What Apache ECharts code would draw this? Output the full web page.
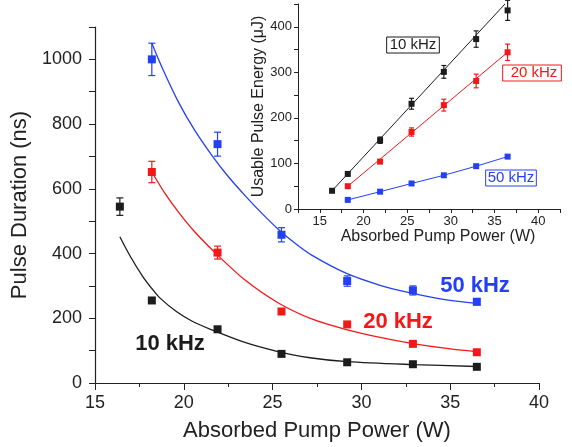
<!DOCTYPE html>
<html>
<head>
<meta charset="utf-8">
<script src="https://cdn.jsdelivr.net/npm/echarts@6/dist/echarts.min.js"></script>
<style>
  html, body { margin: 0; padding: 0; background: #fff; }
  #chart { width: 572px; height: 447px; }
</style>
</head>
<body>
<div id="chart"></div>
<script>
// absorbed pump power (W)
const power10 = [16.4, 18.2, 21.9, 25.5, 29.2, 32.9, 36.5];
const power20 = [18.2, 21.9, 25.5, 29.2, 32.9, 36.5];
const power50 = [18.2, 21.9, 25.5, 29.2, 32.9, 36.5];

// pulse duration (ns) + error
const dur10 = [545, 255, 166, 90, 64, 58, 50];
const durErr10 = [27, 8, 0, 0, 0, 0, 0];
const dur20 = [652, 403, 221, 181, 121, 95];
const durErr20 = [33, 20, 0, 0, 0, 0];
const dur50 = [1000, 738, 458, 315, 286, 251];
const durErr50 = [50, 37, 22, 16, 14, 10];

// fitted curves
const fit10 = [[16.4, 452], [17.0, 390], [17.7, 328], [18.2, 292], [18.65, 263], [19.6, 220], [20.5, 190], [21.5, 166], [23.35, 127], [25.25, 98], [27.1, 78], [29.2, 66], [32.9, 57], [36.5, 51]];
const fit20 = [[18.2, 652], [18.95, 585], [19.7, 528], [20.6, 468], [21.85, 398], [23.45, 318], [25.3, 248], [27.2, 198], [29.1, 166], [31.05, 141], [32.9, 122], [34.8, 107], [36.5, 97]];
const fit50 = [[18.2, 1050], [18.8, 972], [19.7, 868], [20.6, 782], [21.6, 702], [22.5, 638], [23.5, 576], [24.4, 524], [25.3, 476], [26.3, 430], [27.2, 395], [29.1, 340], [31.05, 302], [32.9, 277], [34.8, 257], [36.5, 246]];

// inset: usable pulse energy (uJ) + error
const energy10 = [40, 77, 151, 231, 301, 373, 436];
const energyErr10 = [0, 4, 7, 12, 14, 18, 22];
const energy20 = [50, 104, 169, 228, 281, 344];
const energyErr20 = [0, 3, 9, 13, 15, 18];
const energy50 = [20, 38, 56, 74, 94, 115];
const line10 = [[16.4, 40], [36.2, 450]];
const line20 = [[18.2, 50], [36.5, 344]];

const BLACK = '#1c1c1c', RED = '#f21818', BLUE = '#2440f4';
const FONT = 'Liberation Sans, Arial, sans-serif';

const pts = (xs, ys) => xs.map((x, i) => [x, ys[i]]);
const errPts = (xs, ys, es) => xs.map((x, i) => [x, ys[i], es[i]]);

function errorBars(data, color, xi, yi, cap) {
  return {
    type: 'custom',
    xAxisIndex: xi,
    yAxisIndex: yi,
    data: data,
    z: 3,
    renderItem: function (params, api) {
      const x = api.value(0), y = api.value(1), e = api.value(2);
      if (!e) return null;
      const top = api.coord([x, y + e]);
      const bot = api.coord([x, y - e]);
      const st = { stroke: color, lineWidth: 1.2 };
      return {
        type: 'group',
        children: [
          { type: 'line', shape: { x1: top[0], y1: top[1], x2: bot[0], y2: bot[1] }, style: st },
          { type: 'line', shape: { x1: top[0] - cap, y1: top[1], x2: top[0] + cap, y2: top[1] }, style: st },
          { type: 'line', shape: { x1: bot[0] - cap, y1: bot[1], x2: bot[0] + cap, y2: bot[1] }, style: st }
        ]
      };
    }
  };
}

function scatter(data, color, xi, yi, size) {
  return {
    type: 'scatter', xAxisIndex: xi, yAxisIndex: yi, data: data,
    symbol: 'rect', symbolSize: size, z: 4,
    itemStyle: { color: color, opacity: 1 }
  };
}

function fitLine(data, color, xi, yi, width, smooth) {
  return {
    type: 'line', xAxisIndex: xi, yAxisIndex: yi, data: data,
    showSymbol: false, smooth: smooth, z: 2,
    lineStyle: { color: color, width: width }
  };
}

const axisCommon = {
  axisLine: { lineStyle: { color: '#222', width: 1.2 } },
  splitLine: { show: false }
};

const chart = echarts.init(document.getElementById('chart'));
chart.setOption({
  backgroundColor: '#fff',
  animation: false,
  textStyle: { fontFamily: FONT },
  grid: [
    { left: 95, right: 33, top: 27, bottom: 64, outerBoundsMode: 'none' },
    { left: 298, right: 12, top: 4, bottom: 238, outerBoundsMode: 'none' }
  ],
  xAxis: [
    Object.assign({}, axisCommon, {
      type: 'value', gridIndex: 0, min: 15, max: 40, interval: 5,
      name: 'Absorbed Pump Power (W)', nameLocation: 'middle', nameGap: 37,
      nameTextStyle: { fontSize: 22, color: '#222', fontFamily: FONT },
      axisTick: { length: 7, lineStyle: { color: '#222' } },
      minorTick: { show: true, splitNumber: 2, length: 4, lineStyle: { color: '#222' } },
      axisLabel: { fontSize: 18, color: '#222', margin: 11, fontFamily: FONT }
    }),
    Object.assign({}, axisCommon, {
      type: 'value', gridIndex: 1, min: 12.5, max: 42.5, interval: 2.5,
      name: 'Absorbed Pump Power (W)', nameLocation: 'middle', nameGap: 20,
      nameTextStyle: { fontSize: 16, color: '#222', fontFamily: FONT, padding: [0, 0, 0, 18] },
      axisLine: { lineStyle: { color: '#222', width: 1 } },
      axisTick: { length: 4, lineStyle: { color: '#222' } },
      axisLabel: {
        fontSize: 13, color: '#222', margin: 6, fontFamily: FONT,
        formatter: v => (v % 5 === 0 ? String(v) : '')
      }
    })
  ],
  yAxis: [
    Object.assign({}, axisCommon, {
      type: 'value', gridIndex: 0, min: 0, max: 1100, interval: 100,
      name: 'Pulse Duration (ns)', nameLocation: 'middle', nameGap: 58,
      nameTextStyle: { fontSize: 22, color: '#222', fontFamily: FONT },
      axisTick: { length: 6, lineStyle: { color: '#222' } },
      axisLabel: {
        fontSize: 18, color: '#222', margin: 13, fontFamily: FONT,
        formatter: v => (v % 200 === 0 && v <= 1000 ? String(v) : '')
      }
    }),
    Object.assign({}, axisCommon, {
      type: 'value', gridIndex: 1, min: 0, max: 450, interval: 50,
      name: 'Usable Pulse Energy (\u03bcJ)', nameLocation: 'middle', nameGap: 31,
      nameTextStyle: { fontSize: 16, color: '#222', fontFamily: FONT },
      axisLine: { lineStyle: { color: '#222', width: 1 } },
      axisTick: { length: 4, lineStyle: { color: '#222' } },
      axisLabel: {
        fontSize: 13, color: '#222', margin: 6, fontFamily: FONT,
        formatter: v => (v % 100 === 0 && v <= 400 ? String(v) : '')
      }
    })
  ],
  series: [
    // main plot
    fitLine(fit10, BLACK, 0, 0, 1.3, 0.3),
    fitLine(fit20, RED, 0, 0, 1.3, 0.3),
    fitLine(fit50, BLUE, 0, 0, 1.3, 0.3),
    errorBars(errPts(power10, dur10, durErr10), BLACK, 0, 0, 3.5),
    errorBars(errPts(power20, dur20, durErr20), RED, 0, 0, 3.5),
    errorBars(errPts(power50, dur50, durErr50), BLUE, 0, 0, 3.5),
    scatter(pts(power10, dur10), BLACK, 0, 0, 8),
    scatter(pts(power20, dur20), RED, 0, 0, 8),
    scatter(pts(power50, dur50), BLUE, 0, 0, 8),
    // inset
    fitLine(line10, BLACK, 1, 1, 1, false),
    fitLine(line20, RED, 1, 1, 1, false),
    fitLine(pts(power50, energy50), BLUE, 1, 1, 1, false),
    errorBars(errPts(power10, energy10, energyErr10), BLACK, 1, 1, 2.5),
    errorBars(errPts(power20, energy20, energyErr20), RED, 1, 1, 2.5),
    scatter(pts(power10, energy10), BLACK, 1, 1, 6),
    scatter(pts(power20, energy20), RED, 1, 1, 6),
    scatter(pts(power50, energy50), BLUE, 1, 1, 6)
  ],
  graphic: [
    { type: 'text', x: 170, y: 344, style: { text: '10 kHz', font: 'bold 22px ' + FONT, fill: BLACK, align: 'center', verticalAlign: 'middle' } },
    { type: 'text', x: 398, y: 322, style: { text: '20 kHz', font: 'bold 22px ' + FONT, fill: RED, align: 'center', verticalAlign: 'middle' } },
    { type: 'text', x: 475, y: 286, style: { text: '50 kHz', font: 'bold 22px ' + FONT, fill: BLUE, align: 'center', verticalAlign: 'middle' } },
    { type: 'text', x: 413, y: 45, style: { text: '10 kHz', font: '15px ' + FONT, fill: BLACK, align: 'center', verticalAlign: 'middle', borderColor: BLACK, borderWidth: 1, padding: [1, 3, 0, 3] } },
    { type: 'text', x: 532, y: 73, style: { text: '20 kHz', font: '15px ' + FONT, fill: RED, align: 'center', verticalAlign: 'middle', borderColor: RED, borderWidth: 1, padding: [1, 4, 0, 8] } },
    { type: 'text', x: 511, y: 178, style: { text: '50 kHz', font: '15px ' + FONT, fill: BLUE, align: 'center', verticalAlign: 'middle', borderColor: BLUE, borderWidth: 1, padding: [1, 2, 0, 2] } }
  ]
});
</script>
</body>
</html>
